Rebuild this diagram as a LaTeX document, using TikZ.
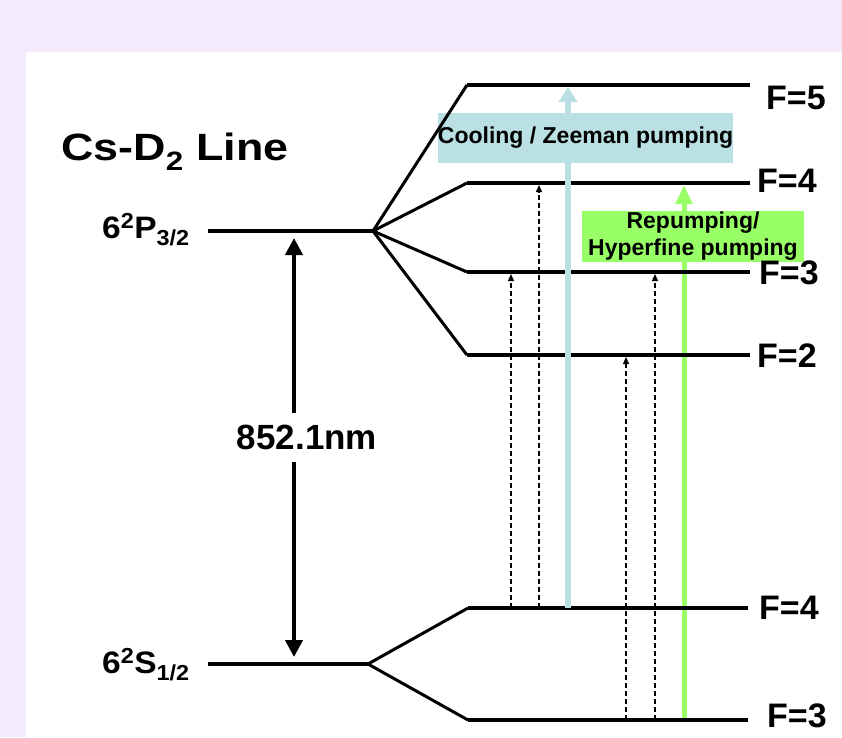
\documentclass[tikz,border=0pt]{standalone}
\usepackage{fontspec}
\setmainfont{Liberation Sans}
\usetikzlibrary{
    arrows.meta,
    positioning
}
\definecolor{lavbg}{HTML}{F3EAFC}
\definecolor{coolblue}{HTML}{BBE0E3}
\definecolor{repgreen}{HTML}{99FF66}
\tikzset{
    level/.style={line width=4pt},
    split/.style={line width=3pt},
    flabel/.style={font=\fontsize{34}{36}\selectfont\bfseries, anchor=west, inner sep=0pt},
    statelbl/.style={font=\fontsize{31}{33}\selectfont\bfseries, anchor=base east, inner sep=0pt},
    dashtr/.style={line width=1.3pt, dash pattern=on 5pt off 3pt, shorten >=2pt, -{Triangle[length=7pt,width=6pt]}},
    pumpbox/.style={font=\fontsize{23}{27}\selectfont\bfseries, align=center, inner sep=0pt}
}

\begin{document}
\begin{tikzpicture}[x=1pt, y=-1pt]
    \useasboundingbox (0,0) rectangle (842,737);
    \fill[lavbg] (0,0) rectangle (842,737);
    \fill[white] (26,52) rectangle (842,737);
    % title and fine-structure states
    \node[font=\fontsize{38}{40}\selectfont\bfseries, anchor=base west, inner sep=0pt] (title) at (61,160) {\scalebox{1.18}[1]{Cs-D\textsubscript{2} Line}};
    \node[statelbl] (Plbl) at (190,238) {\scalebox{1.08}[1]{6\textsuperscript{2}P\textsubscript{3/2}}};
    \node[statelbl] (Slbl) at (190,673) {\scalebox{1.08}[1]{6\textsuperscript{2}S\textsubscript{1/2}}};
    \coordinate (P) at (208,231);
    \coordinate (Pfork) at (373,231);
    \coordinate (S) at (208,664);
    \coordinate (Sfork) at (368,664);
    % x positions of the transitions
    \coordinate (t1) at (511,0);
    \coordinate (t2) at (539,0);
    \coordinate (t3) at (568,0);
    \coordinate (t4) at (626,0);
    \coordinate (t5) at (655,0);
    \coordinate (t6) at (684,0);
    \coordinate (e4a) at (467,183);
    \coordinate (g3a) at (468,720);
    % repumping beam
    \draw[repgreen, line width=5pt, shorten >=2pt, -{Triangle[length=19pt,width=16pt]}] (g3a -| t6) -- (e4a -| t6);
    \node[pumpbox, fill=repgreen, minimum width=222pt, minimum height=51pt] (repbox) at (693,236) {Repumping/\\Hyperfine pumping};
    \node[fill=coolblue, minimum width=295pt, minimum height=50pt, inner sep=0pt] (coolbox) at (585.5,138) {};
    % hyperfine levels
    \draw[level] (P) -- (Pfork);
    \draw[level] (S) -- (Sfork);
    \foreach \F/\y in {5/85,4/183,3/272,2/355} {
        \draw[split] (Pfork) -- (467,\y) coordinate (e\F a);
        \draw[level] (e\F a) -- (750,\y) coordinate (e\F b);
    }
    \foreach \F/\y in {4/608,3/720} {
        \draw[split] (Sfork) -- (468,\y) coordinate (g\F a);
        \draw[level] (g\F a) -- (748,\y) coordinate (g\F b);
    }
    \node[flabel] (F5) at (766,98) {F=5};
    \node[flabel] (F4e) at (757,181) {F=4};
    \node[flabel] (F3e) at (759,273) {F=3};
    \node[flabel] (F2e) at (757,356) {F=2};
    \node[flabel] (F4g) at (759,608) {F=4};
    \node[flabel] (F3g) at (767,716) {F=3};
    % cooling beam
    \draw[coolblue, line width=6pt, shorten >=2pt, -{Triangle[length=15pt,width=18pt]}] (g4a -| t3) -- (e5a -| t3);
    \node[pumpbox] (cooltxt) at (coolbox.center) {Cooling / Zeeman pumping};
    % other transitions
    \draw[dashtr] (g4a -| t1) -- (e3a -| t1);
    \draw[dashtr] (g4a -| t2) -- (e4a -| t2);
    \draw[dashtr] (g3a -| t4) -- (e2a -| t4);
    \draw[dashtr] (g3a -| t5) -- (e3a -| t5);
    % optical transition
    \coordinate (wl) at (294,0);
    \draw[line width=4pt, shorten <=7pt, shorten >=7pt, {Triangle[length=17pt,width=17pt]}-{Triangle[length=17pt,width=17pt]}] (P -| wl) -- (S -| wl);
    \node[fill=white, font=\fontsize{35}{37}\selectfont\bfseries, minimum height=49pt, inner xsep=2pt] (nm) at (307,437) {852.1nm};
\end{tikzpicture}
\end{document}
